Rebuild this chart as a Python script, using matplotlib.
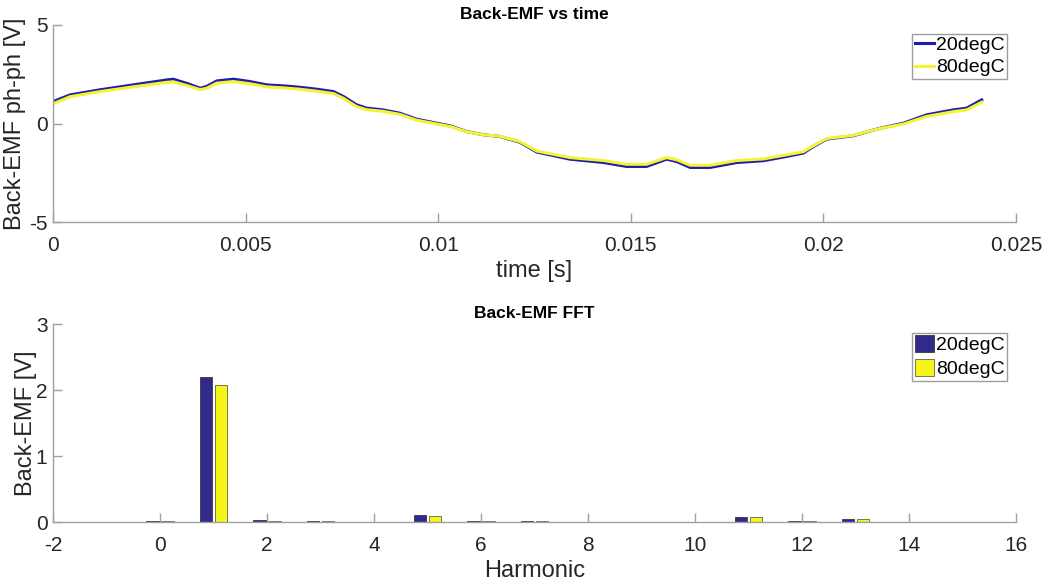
import matplotlib
matplotlib.use("Agg")
import matplotlib.pyplot as plt
import numpy as np

plt.rcParams['font.family'] = ['Liberation Sans', 'DejaVu Sans']
plt.rcParams['axes.unicode_minus'] = False

# ---- Top plot data: back-EMF vs time ----
time_s = [0.0, 0.00044, 0.00122, 0.00208, 0.00295, 0.00312, 0.00347, 0.00382, 0.00399,
          0.00425, 0.00468, 0.00511, 0.00555, 0.00598, 0.00641, 0.00685, 0.00728, 0.00754,
          0.00788, 0.00814, 0.00857, 0.00901, 0.00944, 0.00987, 0.01031, 0.01074, 0.01117,
          0.0116, 0.01212, 0.01256, 0.01342, 0.01429, 0.01489, 0.01541, 0.01593, 0.01619,
          0.01654, 0.01706, 0.01775, 0.01844, 0.01905, 0.01948, 0.01974, 0.02009, 0.02078,
          0.02147, 0.02207, 0.02268, 0.02337, 0.02372, 0.02411]
emf_20 = [1.11, 1.45, 1.71, 1.96, 2.21, 2.25, 2.04, 1.79, 1.88, 2.16, 2.25, 2.13, 1.96,
          1.91, 1.84, 1.74, 1.62, 1.37, 0.95, 0.78, 0.69, 0.52, 0.22, 0.05, -0.12, -0.41,
          -0.57, -0.66, -0.95, -1.45, -1.81, -1.98, -2.18, -2.18, -1.81, -1.93, -2.23,
          -2.23, -1.98, -1.89, -1.67, -1.50, -1.17, -0.79, -0.62, -0.24, 0.01, 0.44, 0.69,
          0.78, 1.20]
emf_80 = [1.00, 1.36, 1.62, 1.86, 2.09, 2.12, 1.93, 1.72, 1.79, 2.05, 2.13, 2.02, 1.86,
          1.81, 1.74, 1.64, 1.52, 1.28, 0.86, 0.70, 0.62, 0.46, 0.17, 0.01, -0.15, -0.42,
          -0.57, -0.65, -0.92, -1.40, -1.73, -1.88, -2.07, -2.07, -1.73, -1.84, -2.12,
          -2.12, -1.88, -1.80, -1.59, -1.43, -1.13, -0.76, -0.60, -0.25, -0.03, 0.36, 0.60,
          0.69, 1.08]

# ---- Bottom plot data: FFT harmonics ----
harmonics = list(range(16))
fft_20 = [0.012, 2.19, 0.025, 0.012, 0.004, 0.100, 0.010, 0.010, 0.003, 0.003, 0.003,
          0.082, 0.012, 0.050, 0.005, 0.002]
fft_80 = [0.012, 2.07, 0.022, 0.011, 0.004, 0.092, 0.009, 0.009, 0.003, 0.003, 0.003,
          0.078, 0.011, 0.038, 0.005, 0.002]

series_labels = ['20degC', '80degC']
top_xticks = [0, 0.005, 0.01, 0.015, 0.02, 0.025]
top_xticklabels = ['0', '0.005', '0.01', '0.015', '0.02', '0.025']
top_yticks = [-5, 0, 5]
bot_xticks = [-2, 0, 2, 4, 6, 8, 10, 12, 14, 16]
bot_yticks = [0, 1, 2, 3]

W, H = 1057, 586
fig = plt.figure(figsize=(W / 100, H / 100), dpi=100)

spine_col = '#a0a0a0'
text_col = '#262626'
AX_L, AX_R = 53, 1016

def style(ax):
    for s in ['top', 'right']:
        ax.spines[s].set_visible(False)
    for s in ['left', 'bottom']:
        ax.spines[s].set_color(spine_col)
        ax.spines[s].set_linewidth(1.0)
    ax.tick_params(direction='in', length=6.5, width=1.0, color=spine_col,
                   labelsize=15, labelcolor=text_col)
    ax.tick_params(axis='x', pad=10)
    ax.tick_params(axis='y', pad=4)

def style_legend(leg):
    fr = leg.get_frame()
    fr.set_edgecolor('#858585')
    fr.set_linewidth(1.0)

ax1 = fig.add_axes([AX_L / W, 1 - 222 / H, (AX_R - AX_L) / W, (222 - 25) / H])
ax1.plot(time_s, emf_20, color='#1c1cb4', lw=2.2, label=series_labels[0],
         solid_joinstyle='round')
ax1.plot(time_s, emf_80, color='#f4f432', lw=2.2, label=series_labels[1],
         solid_joinstyle='round')
ax1.set_xlim(0, 0.025)
ax1.set_ylim(-5, 5)
ax1.set_xticks(top_xticks)
ax1.set_xticklabels(top_xticklabels)
ax1.set_yticks(top_yticks)
style(ax1)
ax1.set_xlabel('time [s]', fontsize=17, color=text_col, labelpad=4)
ax1.set_ylabel('Back-EMF ph-ph [V]', fontsize=17, color=text_col, labelpad=2)
ax1.set_title('Back-EMF vs time', fontsize=12.5, fontweight='bold', pad=4)
leg1 = ax1.legend(loc='upper right', bbox_to_anchor=(1007 / W, 1 - 34 / H),
                  bbox_transform=fig.transFigure, fontsize=14, frameon=True,
                  fancybox=False, borderpad=0.12, labelspacing=0.25,
                  handlelength=1.0, handletextpad=0.1, borderaxespad=0)
style_legend(leg1)

ax2 = fig.add_axes([AX_L / W, 1 - 522 / H, (AX_R - AX_L) / W, (522 - 324) / H])
x = np.array(harmonics, dtype=float)
bw = 0.235
ax2.bar(x - 0.14, fft_20, width=bw, color='#322a88', edgecolor='#222222', lw=0.5,
        label=series_labels[0])
ax2.bar(x + 0.14, fft_80, width=bw, color='#f5f51a', edgecolor='#444444', lw=0.5,
        label=series_labels[1])
ax2.set_xlim(-2, 16)
ax2.set_ylim(0, 3)
ax2.set_xticks(bot_xticks)
ax2.set_yticks(bot_yticks)
style(ax2)
ax2.set_xlabel('Harmonic', fontsize=17, color=text_col, labelpad=4)
ax2.set_ylabel('Back-EMF [V]', fontsize=17, color=text_col, labelpad=-1)
ax2.set_title('Back-EMF FFT', fontsize=12.5, fontweight='bold', pad=4)
leg2 = ax2.legend(loc='upper right', bbox_to_anchor=(1007 / W, 1 - 333 / H),
                  bbox_transform=fig.transFigure, fontsize=14, frameon=True,
                  fancybox=False, borderpad=0.12, labelspacing=0.25,
                  handlelength=1.0, handleheight=0.95, handletextpad=0.1,
                  borderaxespad=0)
style_legend(leg2)

fig.savefig('out.png', dpi=100)
